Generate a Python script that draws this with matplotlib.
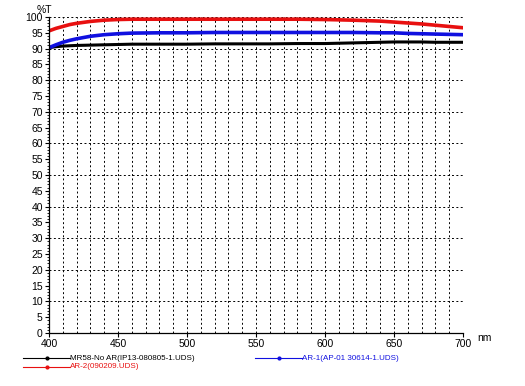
import matplotlib
matplotlib.use("Agg")
import matplotlib.pyplot as plt
from matplotlib.lines import Line2D
import numpy as np

plt.rcParams['font.family'] = ['Liberation Sans', 'DejaVu Sans']

wl = [400, 405, 410, 415, 420, 430, 440, 450, 460, 480, 500, 520, 540, 560, 580, 600, 620, 640, 650, 660, 670, 680, 690, 700]
black = [90.3, 90.6, 90.8, 90.9, 91.0, 91.1, 91.2, 91.3, 91.4, 91.4, 91.4, 91.5, 91.5, 91.5, 91.6, 91.6, 91.8, 92.0, 92.1, 92.1, 92.1, 92.0, 92.0, 92.0]
blue = [90.3, 91.2, 92.0, 92.6, 93.1, 93.9, 94.4, 94.7, 94.9, 95.0, 95.0, 95.1, 95.1, 95.1, 95.1, 95.1, 95.1, 95.0, 95.0, 94.8, 94.7, 94.6, 94.5, 94.4]
red = [95.6, 96.4, 97.0, 97.6, 98.0, 98.6, 99.0, 99.2, 99.3, 99.3, 99.3, 99.3, 99.3, 99.3, 99.3, 99.2, 99.0, 98.7, 98.4, 98.1, 97.8, 97.4, 97.0, 96.6]

labels = ["MR58-No AR(IP13-080805-1.UDS)", "AR-1(AP-01 30614-1.UDS)", "AR-2(090209.UDS)"]
colors = ["#000000", "#1010e0", "#e81010"]

fig = plt.figure(figsize=(5.25, 3.86), dpi=100)
ax = fig.add_axes([49/525, 1-333/386, (463-49)/525, (333-17)/386])

ax.plot(wl, black, color=colors[0], lw=2.2)
ax.plot(wl, blue, color=colors[1], lw=2.6)
ax.plot(wl, red, color=colors[2], lw=2.6)

ax.set_xlim(400, 700)
ax.set_ylim(0, 100)
ax.set_xticks(np.arange(400, 701, 50))
ax.set_xticks(np.arange(400, 701, 10), minor=True)
ax.set_yticks(np.arange(0, 101, 5))
ax.set_yticks(np.arange(0, 101, 1), minor=True)
ax.tick_params(axis='both', labelsize=7.5, length=3, width=0.8, pad=1.5, direction='out')
ax.tick_params(axis='y', which='minor', length=1.8, width=0.6)
ax.tick_params(axis='x', which='minor', length=0)

for y in range(10, 101, 10):
    ax.axhline(y, color='black', lw=0.7, ls=(0, (2, 2.5)), zorder=0)
for x in range(410, 701, 10):
    ax.axvline(x, color='black', lw=0.7, ls=(0, (2, 2.5)), zorder=0)

ax.spines['top'].set_visible(False)
ax.spines['right'].set_visible(False)
ax.spines['left'].set_linewidth(0.9)
ax.spines['bottom'].set_linewidth(0.9)

fig.text(37/525, 1-10/386, "%T", fontsize=7.5, va='center', ha='left')
fig.text(477/525, 1-338/386, "nm", fontsize=7.5, va='center', ha='left')

def legend_item(x0, y0, color, text):
    y = 1 - y0/386
    fig.add_artist(Line2D([x0/525, (x0+47)/525], [y, y], color=color, lw=0.8,
                          marker=None, transform=fig.transFigure))
    fig.add_artist(Line2D([(x0+24)/525], [y], color=color, marker='o', ms=2,
                          transform=fig.transFigure))
    fig.text((x0+47)/525, y, text, color=color, fontsize=5.8, va='center', ha='left')

legend_item(23, 358, colors[0], labels[0])
legend_item(255, 358, colors[1], labels[1])
legend_item(23, 367, colors[2], labels[2])

fig.savefig("out.png", dpi=100)
